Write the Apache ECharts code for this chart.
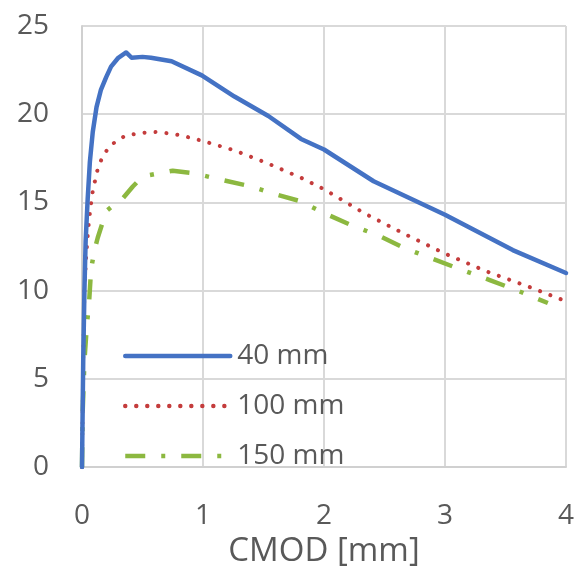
<!DOCTYPE html>
<html>
<head>
<meta charset="utf-8">
<script src="https://cdn.jsdelivr.net/npm/echarts@6/dist/echarts.min.js"></script>
<style>
html,body{margin:0;padding:0;background:#fff;}
#chart{width:585px;height:573px;}
</style>
</head>
<body>
<div id="chart"></div>
<script>
// CMOD [mm] vs load
const seriesNames = ['40 mm', '100 mm', '150 mm'];

const x40 = [0, 0.005, 0.01, 0.02, 0.03, 0.047, 0.065, 0.089, 0.12, 0.157, 0.2, 0.24, 0.3, 0.365, 0.41, 0.5, 0.57, 0.74, 0.99, 1.26, 1.54, 1.81, 2.0, 2.41, 3.0, 3.56, 4.0];
const y40 = [0, 3, 6, 10, 12.8, 15.2, 17.3, 19.0, 20.4, 21.4, 22.1, 22.7, 23.2, 23.5, 23.2, 23.25, 23.2, 23.0, 22.2, 21.0, 19.9, 18.6, 18.0, 16.2, 14.3, 12.3, 11.0];

const x100 = [0, 0.005, 0.01, 0.02, 0.035, 0.05, 0.07, 0.09, 0.13, 0.17, 0.23, 0.3, 0.365, 0.5, 0.63, 0.82, 0.99, 1.26, 1.54, 1.81, 2.0, 2.33, 2.67, 3.0, 3.34, 3.7, 4.0];
const y100 = [0, 3, 6, 10.0, 12.0, 13.4, 14.7, 15.7, 16.9, 17.6, 18.2, 18.55, 18.8, 18.95, 19.0, 18.8, 18.5, 17.95, 17.2, 16.4, 15.75, 14.4, 13.2, 12.1, 11.1, 10.2, 9.4];

const x150 = [0, 0.005, 0.02, 0.04, 0.06, 0.075, 0.1, 0.13, 0.2, 0.27, 0.34, 0.42, 0.49, 0.56, 0.75, 0.93, 1.14, 1.4, 1.58, 1.79, 2.0, 2.23, 2.46, 2.67, 2.9, 3.13, 3.37, 3.6, 3.85];
const y150 = [0, 3, 6, 8, 9.5, 11.2, 12.2, 13.0, 14.5, 14.9, 15.25, 15.9, 16.4, 16.55, 16.8, 16.65, 16.3, 15.9, 15.5, 15.1, 14.4, 13.7, 13.1, 12.4, 11.8, 11.2, 10.6, 10.0, 9.3];

const xTicks = [0, 1, 2, 3, 4];
const yTicks = [0, 5, 10, 15, 20, 25];
const xName = 'CMOD [mm]';

function pairs(xs, ys) { return xs.map((v, i) => [v, ys[i]]); }

const FONT = 'Open Sans';
const chart = echarts.init(document.getElementById('chart'), null, {renderer: 'canvas'});
chart.setOption({
  animation: false,
  backgroundColor: '#ffffff',
  grid: {left: 82, right: 19, top: 26, bottom: 100, containLabel: false},
  legend: {
    orient: 'vertical',
    left: 118,
    top: 337,
    padding: 5,
    itemWidth: 105,
    itemHeight: 28,
    itemGap: 22,
    data: seriesNames,
    itemStyle: {opacity: 0},
    lineStyle: {width: 4.5},
    textStyle: {fontFamily: FONT, fontSize: 28, color: '#595959', padding: [0, 0, 0, 2]}
  },
  xAxis: {
    type: 'value',
    min: xTicks[0],
    max: xTicks[xTicks.length - 1],
    interval: 1,
    name: xName,
    nameLocation: 'middle',
    nameGap: 62,
    nameTextStyle: {fontFamily: FONT, fontSize: 33, color: '#595959'},
    axisLine: {show: true, lineStyle: {color: '#d0d0d0', width: 2}},
    axisTick: {show: false},
    axisLabel: {fontFamily: FONT, fontSize: 28, color: '#595959', margin: 35},
    splitLine: {show: true, lineStyle: {color: '#d9d9d9', width: 2}}
  },
  yAxis: {
    type: 'value',
    min: yTicks[0],
    max: yTicks[yTicks.length - 1],
    interval: 5,
    axisLine: {show: true, lineStyle: {color: '#d0d0d0', width: 2}},
    axisTick: {show: false},
    axisLabel: {fontFamily: FONT, fontSize: 28, color: '#595959', margin: 33, padding: [0, 0, 14, 0]},
    splitLine: {show: true, lineStyle: {color: '#d9d9d9', width: 2}}
  },
  series: [
    {
      name: seriesNames[0], type: 'line', symbol: 'none', z: 4,
      data: pairs(x40, y40),
      lineStyle: {color: '#4472c4', width: 4.5, cap: 'round', join: 'round'},
      itemStyle: {color: '#4472c4'}
    },
    {
      name: seriesNames[1], type: 'line', symbol: 'none', z: 3,
      data: pairs(x100, y100),
      lineStyle: {color: '#c43c3c', width: 4, type: [0.01, 11], cap: 'round'},
      itemStyle: {color: '#c43c3c'}
    },
    {
      name: seriesNames[2], type: 'line', symbol: 'none', z: 2,
      data: pairs(x150, y150),
      lineStyle: {color: '#8cb840', width: 4.5, type: [20, 16, 4, 16], cap: 'butt'},
      itemStyle: {color: '#8cb840'}
    }
  ]
});
</script>
</body>
</html>
